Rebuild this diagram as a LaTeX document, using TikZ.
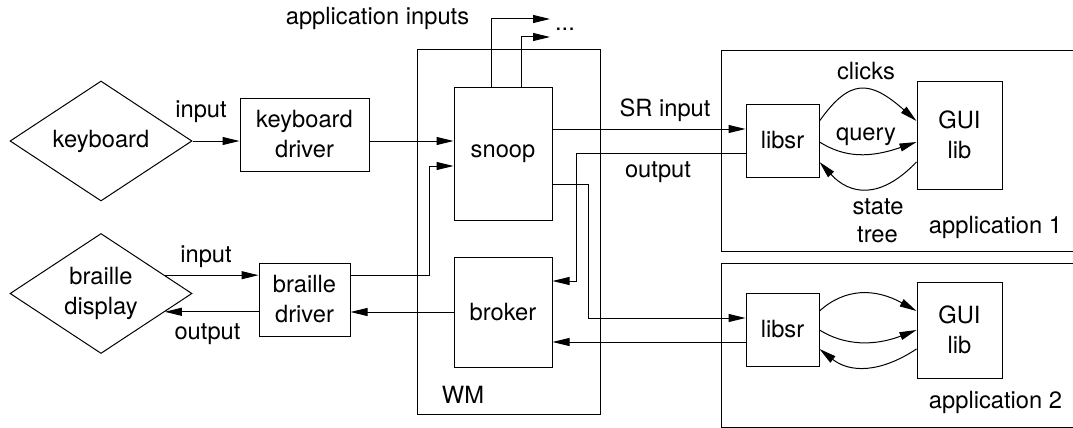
\documentclass[tikz,border=0pt]{standalone}
\usepackage{fontspec}
\setmainfont{TeX Gyre Heros}
\usetikzlibrary{arrows.meta,shapes.geometric,calc}
\begin{document}
\begin{tikzpicture}[x=1pt,y=-1pt,line width=1pt,
  every node/.style={font=\fontsize{23.7}{30}\selectfont,inner sep=0pt},
  box/.style={draw,align=center},
  dev/.style={draw,diamond,shape aspect=1.5,minimum width=182pt,minimum height=120pt,align=center},
  arr/.style={-{Triangle[length=17pt,width=8pt]}},
  lbl/.style={anchor=base}]
\useasboundingbox (0,0) rectangle (1073,428);

% input devices and their drivers
\node[dev] (kb) at (101,141) {keyboard};
\node[box,minimum width=129pt,minimum height=73pt] (kdrv) at (304.5,134.5) {keyboard\\driver};
\node[dev] (bd) at (101,293.5) {braille\\display};
\node[box,minimum width=91pt,minimum height=73pt] (bdrv) at (304.5,299.5) {braille\\driver};

% window manager with snoop and broker
\node[box,minimum width=183pt,minimum height=364pt] (wm) at (508.5,232) {};
\node[lbl] (wmlbl) at (463,403) {WM};
\node[box,minimum width=98pt,minimum height=133pt] (snoop) at (503,153.5) {snoop};
\node[box,minimum width=98pt,minimum height=110pt] (broker) at (503,312) {broker};

% applications (open on the right)
\draw (1073,51) -| (721,251) -- (1073,251);
\draw (1073,263) -| (721,427) -- (1073,427);
\node[lbl] (app1) at (995.5,233) {application 1};
\node[lbl] (app2) at (995.5,408) {application 2};
\node[box,minimum width=73pt,minimum height=73pt] (lib1) at (782.5,140.5) {libsr};
\node[box,minimum width=85pt,minimum height=108pt] (gui1) at (959.5,135) {GUI\\lib};
\node[box,minimum width=73pt,minimum height=73pt] (lib2) at (782.5,329.5) {libsr};
\node[box,minimum width=85pt,minimum height=96pt] (gui2) at (959.5,330) {GUI\\lib};

% labels
\node[lbl] (ailbl) at (377.5,25) {application inputs};
\node[lbl] (dots) at (565,31) {...};
\node[lbl] (kin) at (201,117) {input};
\node[lbl] (bin) at (206,262) {input};
\node[lbl] (bout) at (207.5,339) {output};
\node[lbl] (srin) at (665,116) {SR input};
\node[lbl] (srout) at (658,177) {output};
\node[lbl] (clk) at (866,80) {clicks};
\node[lbl] (qry) at (866,140) {query};
\node[lbl] (st1) at (878,214) {state};
\node[lbl] (st2) at (877.5,242) {tree};

% helper coordinates
\coordinate (ysn) at (0,166);
\coordinate (ai1) at (550,19);
\coordinate (ai2) at (550,37);
\coordinate (sr) at (0,129);
\coordinate (o1) at (0,153);
\coordinate (xo) at (576,281);
\coordinate (xs) at (588,184);
\coordinate (ys) at (0,318);
\coordinate (yb) at (0,342);

% device connections
\draw[arr] (kb.east) -- (kb.east -| kdrv.west);
\draw[arr] (kdrv.east |- kb.east) -- (snoop.west |- kb.east);
\draw[arr] (bd.16.4) -- (bd.16.4 -| bdrv.west);
\draw[arr] (bd.-16.4 -| bdrv.west) -- (bd.-16.4);
\draw[arr] (bd.16.4 -| bdrv.east) -- ++(79,0) |- (snoop.west |- ysn);
\draw[arr] (broker.west) -- (broker.west -| bdrv.east);

% snoop outputs
\draw[arr] ($(snoop.north)+(-12,0)$) |- (ai1);
\draw[arr] ($(snoop.north)+(18,0)$) |- (ai2);
\draw[arr] (snoop.east |- sr) -- (lib1.west |- sr);
\draw[arr] (lib1.west |- o1) -| (xo) -- (broker.east |- xo);
\draw[arr] (snoop.east |- xs) -- (xs) |- (lib2.west |- ys);
\draw[arr] (lib2.west |- yb) -- (broker.east |- yb);

% libsr <-> GUI lib, application 1
\draw[arr] ($(lib1.east)+(0,-19.5)$) .. controls (850,78) and (870,80) .. ($(gui1.west)+(0,-14)$);
\draw[arr] ($(lib1.east)+(0,1.5)$) .. controls (845,158) and (870,158) .. ($(gui1.west)+(0,7)$);
\draw[arr] ($(gui1.west)+(0,27)$) .. controls (880,200) and (850,195) .. ($(lib1.east)+(0,21.5)$);

% libsr <-> GUI lib, application 2
\draw[arr] ($(lib2.east)+(0,-18.5)$) .. controls (845,288) and (875,288) .. ($(gui2.west)+(0,-19)$);
\draw[arr] ($(lib2.east)+(0,0.5)$) .. controls (845,346) and (875,346) .. (gui2.west);
\draw[arr] ($(gui2.west)+(0,19)$) .. controls (880,373) and (850,373) .. ($(lib2.east)+(0,19.5)$);
\end{tikzpicture}
\end{document}
